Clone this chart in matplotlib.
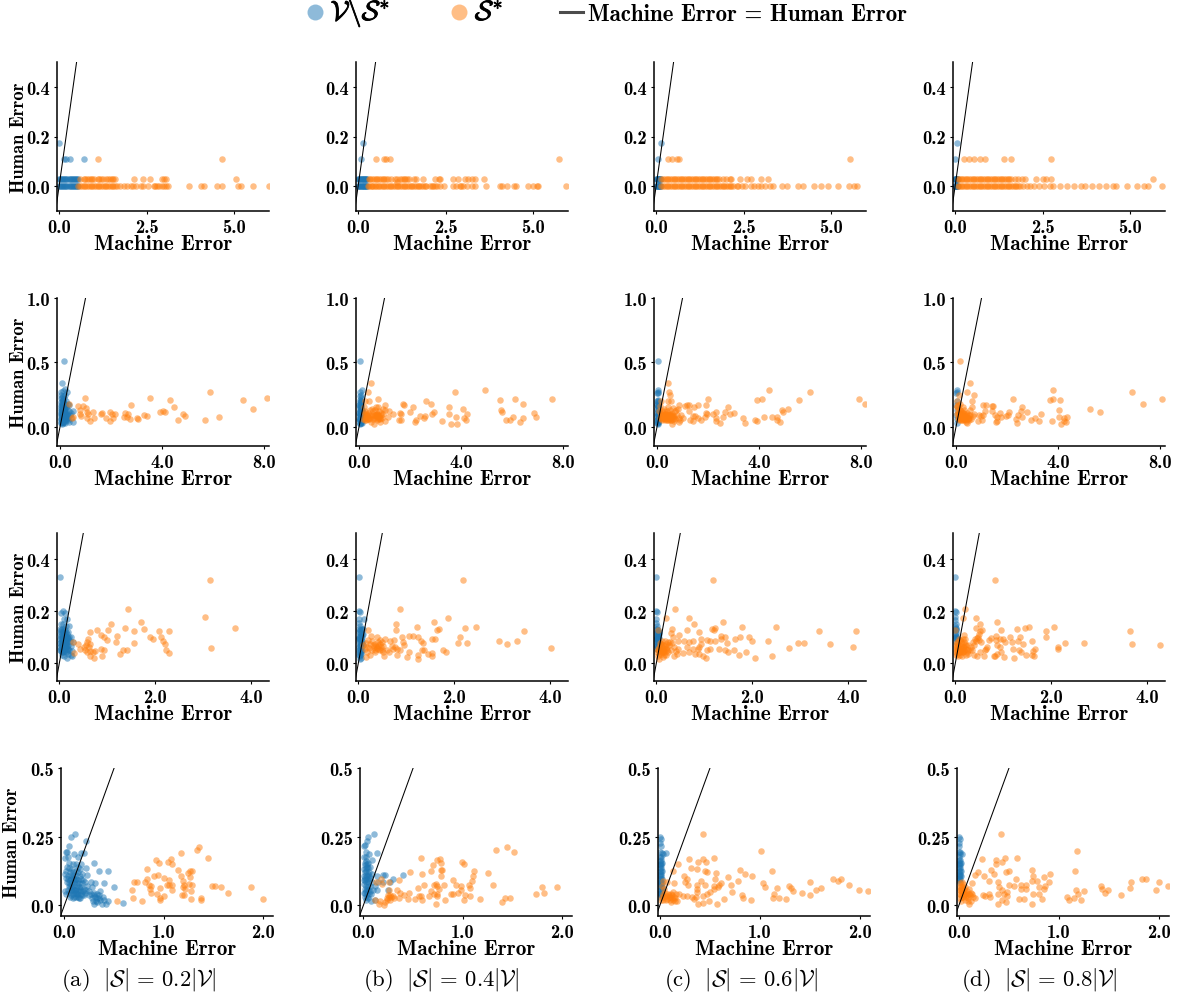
import matplotlib
matplotlib.use("Agg")
import matplotlib.pyplot as plt
from matplotlib.lines import Line2D
import matplotlib.patheffects as pe

plt.rcParams['mathtext.fontset'] = 'cm'
W, H = 1177, 995
BLUE, ORANGE = '#1f77b4', '#ff7f0e'
BOLD = 'cmb10'

# ---- Row 1: human error takes a few discrete levels
LEVEL_A, LEVEL_B, LEVEL_C, LEVEL_D = 0.0, 0.028, 0.11, 0.172

r1c1_blue_strip = [0.0,.03,.06,.09,.12,.15,.18,.21,.24,.27,.30,.33,.36,.39,.42,.45,.48,.51,.54]
r1c1_blue_c = [.15,.2,.3,.7]
r1c1_blue_d = [0.0]
r1c1_or_a = [.55,.6,.65,.7,.75,.8,.85,.9,.95,1.0,1.05,1.1,1.15,1.2,1.25,1.3,1.35,1.4,1.45,1.5,1.55,1.6,1.65,1.75,1.85,1.95,2.05,2.1,2.2,2.35,2.4,2.55,2.7,2.75,2.8,2.85,2.95,3.0,3.05,3.1,3.7,4.05,4.15,4.5,4.65,5.1,5.2,5.55,6.0]
r1c1_or_b = [.6,.7,.75,.8,.85,.9,.95,1.0,1.1,1.15,1.2,1.25,1.35,1.4,1.45,1.5,1.55,1.6,2.15,2.4,2.6,2.95,3.0,3.05,5.05]
r1c1_or_c = [1.1,4.65]

r1c2_blue_strip = [0.0,.02,.04,.06,.08,.10,.12,.14,.16,.18,.20,.22,.24,.26]
r1c2_blue_c = [.07]
r1c2_blue_d = [.15]
r1c2_or_a = [.28,.32,.36,.4,.44,.48,.52,.56,.6,.65,.7,.75,.8,.85,.9,.95,1.0,1.05,1.1,1.15,1.2,1.25,1.3,1.35,1.4,1.45,1.5,1.55,1.6,1.65,1.7,1.75,1.8,1.85,1.9,1.95,2.05,2.1,2.15,2.2,2.25,2.35,2.45,2.7,2.8,2.9,2.95,3.0,3.1,3.25,3.35,3.65,4.05,4.1,4.25,4.45,4.5,4.85,5.0,5.1,5.15,5.95]
r1c2_or_b = [.3,.35,.4,.45,.5,.55,.6,.65,.7,.75,.8,.85,.95,1.05,1.1,1.2,1.25,1.3,1.35,1.4,1.45,1.6,1.65,1.85,2.2,2.3,2.35,2.7,2.85,3.05,3.15,3.25,3.35,3.6]
r1c2_or_c = [.5,.75,.8,.9,5.75]
r1c2_or_x = [1.1]

r1c3_blue_strip = [0.0,.015,.03,.045,.06,.075,.09,.105,.12,.135]
r1c3_blue_c = [.05]
r1c3_blue_d = [.15]
r1c3_or_a = [.15,.2,.25,.3,.35,.4,.45,.5,.55,.6,.65,.7,.75,.8,.85,.9,.95,1.0,1.05,1.1,1.15,1.2,1.25,1.3,1.35,1.4,1.45,1.5,1.55,1.6,1.65,1.7,1.75,1.8,1.85,1.9,1.95,2.0,2.05,2.1,2.15,2.2,2.3,2.35,2.45,2.55,2.7,2.8,2.9,3.0,3.1,3.25,3.35,3.6,3.75,4.05,4.2,4.5,4.7,4.9,5.2,5.5,5.65,5.75]
r1c3_or_b = [.15,.2,.25,.3,.35,.4,.45,.5,.55,.6,.65,.7,.75,.8,.85,.9,.95,1.0,1.05,1.1,1.15,1.2,1.25,1.3,1.35,1.4,1.45,1.5,1.55,1.6,1.65,1.7,1.75,1.8,1.9,2.0,2.1,2.15,2.4,2.6,2.7,3.0,3.2]
r1c3_or_c = [.35,.45,.6,.65,5.55]

r1c4_blue_strip = [0.0,.01,.02,.03,.04,.05,.06,.07]
r1c4_blue_c = [.0]
r1c4_blue_d = [.05]
r1c4_or_a = [.08,.12,.16,.2,.25,.3,.35,.4,.45,.5,.55,.6,.65,.7,.75,.8,.85,.9,.95,1.0,1.05,1.1,1.15,1.2,1.25,1.3,1.35,1.4,1.45,1.5,1.55,1.6,1.65,1.7,1.75,1.8,1.85,1.95,2.05,2.15,2.25,2.4,2.55,2.7,2.8,3.0,3.2,3.4,3.6,3.7,3.9,4.1,4.3,4.5,4.6,4.9,5.2,5.4,5.5,5.9]
r1c4_or_b = [.08,.12,.16,.2,.25,.3,.35,.4,.45,.5,.55,.6,.65,.7,.75,.8,.85,.9,.95,1.0,1.05,1.1,1.15,1.2,1.25,1.3,1.35,1.4,1.45,1.5,1.55,1.6,1.7,1.8,1.9,2.0,2.3,2.5,2.6,2.75,5.65]
r1c4_or_c = [.25,.4,.55,.7,.85,1.4,1.6,2.75]

# ---- Row 2
r2c1_blue = [(.17,.51),(.09,.34),(.02,.27),(.1,.28),(.2,.29),(.28,.27),(.05,.25),(.12,.24),(.2,.25),(.03,.22),(.1,.21),(.16,.22),(.24,.2),(.05,.19),(.12,.19),(.18,.18),(.3,.18),(.36,.17),(.02,.17),(.08,.16),(.14,.16),(.22,.15),(.27,.14),(.03,.14),(.1,.13),(.17,.13),(.35,.12),(.5,.12),(.42,.11),(.05,.12),(.13,.11),(.2,.1),(.26,.1),(.02,.1),(.08,.09),(.15,.09),(.31,.09),(.4,.09),(.04,.08),(.11,.07),(.18,.07),(.25,.07),(.33,.07),(.44,.07),(.02,.06),(.08,.05),(.14,.05),(.22,.05),(.3,.05),(.37,.04),(.5,.04),(.05,.03),(.12,.03),(.2,.03),(.07,.02),(.03,.04),(.16,.12),(.21,.13),(.1,.17),(.07,.11),
 (.06,.2),(.09,.22),(.13,.2),(.07,.18),(.11,.17),(.15,.18),(.04,.15),(.07,.14),(.12,.14),(.19,.15),(.06,.13),(.09,.12),(.14,.13),(.18,.11),(.04,.11),(.09,.1),(.12,.09),(.17,.1),(.22,.09),(.06,.08),(.09,.07),(.14,.08),(.2,.08),(.05,.06),(.1,.05),(.16,.06),(.23,.06),(.07,.04),(.11,.04),(.17,.04),(.13,.16),(.16,.15)]
r2c1_orange = [(.97,.22),(.71,.16),(.91,.16),(1.0,.147),(.78,.13),(1.07,.116),(.78,.10),(1.3,.116),(1.1,.096),(.82,.085),(1.6,.10),(1.65,.11),(1.07,.065),(1.33,.07),(1.17,.045),(1.8,.07),(1.96,.116),(2.03,.10),(2.16,.098),(1.96,.045),(2.07,.07),(2.55,.108),(2.66,.098),(2.49,.078),(2.62,.078),(2.75,.06),(2.78,.168),(3.0,.07),(3.04,.06),(3.28,.09),(3.41,.083),(3.54,.22),(3.93,.116),(4.03,.12),(4.13,.116),(4.3,.21),(4.46,.155),(4.62,.054),(4.82,.095),(4.92,.08),(5.68,.05),(5.87,.27),(6.24,.078),(7.17,.21),(7.59,.14),(8.14,.22),(.51,.078),(.45,.065),(.34,.173)]

r2c2_blue = [(.02,.51),(.04,.27),(.1,.285),(.08,.25),(.02,.21),(.06,.22),(.03,.19),(.08,.18),(.01,.17),(.05,.16),(.09,.15),(.02,.14),(.06,.13),(.1,.12),(.01,.11),(.04,.1),(.08,.09),(.12,.09),(.02,.08),(.06,.07),(.1,.06),(.03,.05),(.07,.04),(.02,.03),(.05,.02),(.1,.03),(.13,.05),(.03,.12),(.07,.11),(.04,.07),(.09,.2),(.12,.13),(.01,.06),(.05,.05),
 (.05,.24),(.07,.2),(.04,.18),(.07,.16),(.03,.15),(.07,.14),(.04,.12),(.08,.12),(.02,.1),(.06,.1),(.1,.1),(.03,.09),(.07,.08),(.1,.08),(.04,.06),(.08,.05),(.02,.05),(.06,.03),(.03,.03)]
r2c2_orange = [(.47,.34),(.37,.266),(.76,.217),(.24,.2),(.39,.2),(1.72,.175),(1.77,.165),(2.11,.15),(2.61,.196),(2.81,.175),(3.53,.15),(3.78,.266),(4.93,.285),(5.55,.206),(6.13,.217),(6.44,.18),(7.59,.217),(5.58,.133),(5.6,.112),(6.85,.107),(6.96,.073),(6.04,.076),(5.76,.052),(5.92,.052),(6.42,.065),(6.31,.037),(4.09,.136),(4.24,.097),(4.12,.068),(4.2,.055),(3.79,.073),(3.84,.024),(3.61,.024),(3.53,.10),(3.27,.044),(2.93,.117),(2.86,.097),(2.6,.086),(2.4,.086),(2.56,.068),(2.24,.05),(2.18,.037),(1.98,.112),(1.61,.104),(1.65,.1),(1.56,.052),(1.65,.052),(1.35,.1),(1.19,.123),(1.15,.073),(1.02,.165),(.93,.138),(1.02,.047),(.59,.018),(.83,.034),
 (.2,.15),(.25,.12),(.3,.09),(.22,.07),(.28,.05),(.35,.11),(.4,.07),(.45,.04),(.42,.13),(.5,.14),(.55,.12),(.6,.09),(.65,.07),(.7,.05),(.48,.09),(.75,.15),(.8,.12),(.85,.09),(.7,.1),(.78,.07),(.9,.07),(.95,.1),(.62,.13),(.72,.08),(.82,.06),(.55,.06),(.35,.06),(.26,.09),(.66,.15),(.88,.11),(1.0,.13),(.18,.1),(.16,.06),
 (.22,.11),(.27,.07),(.33,.08),(.38,.09),(.43,.06),(.52,.08),(.58,.07),(.68,.09),(.74,.06),(.76,.09),(.8,.08),(.72,.1),(.84,.07),(.64,.09),(.3,.06),(.24,.05)]

r2c3_blue = [(.02,.51),(.02,.285),(.03,.27),(.01,.26),(.02,.21),(.03,.19),(.01,.17),(.02,.15),(.03,.13),(.01,.11),(.02,.09),(.03,.07),(.01,.05),(.02,.03),(.03,.02),(.04,.04),(.04,.16),(.05,.11),(.01,.2),(.05,.06),
 (.02,.265),(.04,.2),(.01,.18),(.03,.16),(.01,.14),(.02,.12),(.04,.1),(.01,.08),(.03,.05),(.04,.08),(.02,.06),(.01,.03),(.03,.035)]
r2c3_orange = [(.42,.34),(.46,.266),(.51,.243),(.42,.2),(.55,.196),(2.0,.217),(1.91,.172),(1.6,.165),(1.17,.165),(1.25,.165),(1.08,.16),(1.45,.154),(.88,.172),(2.79,.15),(2.66,.117),(3.91,.206),(4.13,.214),(4.41,.285),(5.59,.209),(6.01,.266),(7.93,.217),(8.16,.18),(5.14,.136),(4.92,.133),(4.93,.112),(4.7,.073),(4.5,.073),(4.2,.073),(4.7,.055),(4.83,.037),(3.84,.055),(3.91,.044),(3.45,.026),(3.36,.065),(3.03,.107),(2.86,.102),(2.57,.073),(2.46,.026),(2.3,.117),(2.2,.1),(2.3,.042),(2.3,.065),(1.91,.104),(1.96,.098),(1.88,.073),(1.71,.055),(1.6,.068),(1.47,.086),(1.41,.086),(1.3,.055),(1.41,.044),(1.25,.123),(1.01,.068),(.95,.091),(.88,.04),(.82,.138),(.64,.143),(.59,.021),(.68,.047),(.55,.086),
 (.1,.16),(.15,.2),(.2,.12),(.25,.09),(.12,.07),(.18,.05),(.3,.1),(.35,.07),(.4,.05),(.28,.14),(.38,.12),(.45,.09),(.5,.07),(.55,.05),(.6,.1),(.65,.08),(.72,.06),(.78,.09),(.85,.07),(.7,.12),(.5,.13),(.42,.15),(.32,.06),(.22,.07),(.15,.1),(.08,.12),(.62,.06),(.75,.13),(.9,.05),(.48,.11),(.36,.09),(.26,.12),
 (.14,.08),(.18,.09),(.24,.07),(.28,.08),(.33,.05),(.37,.1),(.42,.07),(.47,.06),(.52,.09),(.57,.08),(.62,.08),(.68,.07),(.4,.09),(.3,.07),(.2,.06),(.5,.05),(.44,.05),(.55,.1)]

r2c4_blue = [(.02,.285),(.03,.27),(.01,.26),(.02,.2),(.01,.17),(.02,.13),(.01,.09),(.02,.06),(.03,.03)]
r2c4_orange = [(.17,.51),(.53,.34),(.42,.266),(.7,.245),(.63,.2),(.1,.243),(2.22,.214),(3.82,.285),(3.68,.206),(3.82,.214),(4.08,.209),(6.91,.266),(7.34,.18),(8.09,.217),(5.24,.136),(5.63,.112),(4.05,.133),(3.34,.102),(2.8,.112),(2.6,.15),(2.54,.12),(2.43,.091),(2.58,.073),(2.34,.06),(2.41,.026),(2.08,.112),(2.04,.091),(1.95,.086),(1.78,.073),(1.74,.107),(1.62,.073),(1.58,.034),(1.62,.047),(1.51,.091),(1.41,.157),(1.46,.16),(1.42,.123),(1.18,.165),(1.05,.165),(1.12,.123),(1.07,.091),(.96,.086),(.89,.091),(.86,.047),(1.03,.052),(4.03,.073),(4.12,.024),(3.75,.044),(4.25,.068),(4.36,.076),(4.25,.047),(4.32,.034),(3.25,.047),(3.09,.065),(2.93,.055),
 (.05,.2),(.08,.17),(.03,.15),(.06,.12),(.1,.14),(.04,.1),(.08,.07),(.12,.05),(.15,.1),(.18,.08),(.2,.12),(.22,.05),(.25,.09),(.28,.07),(.3,.11),(.33,.13),(.35,.06),(.38,.09),(.4,.04),(.42,.11),(.45,.07),(.5,.09),(.55,.13),(.58,.06),(.62,.15),(.66,.08),(.7,.1),(.26,.15),(.15,.18),(.44,.03),(.12,.07),(.3,.05),(.5,.05),
 (.07,.1),(.11,.09),(.14,.08),(.17,.06),(.2,.09),(.23,.07),(.27,.11),(.32,.08),(.36,.08),(.4,.07),(.43,.09),(.47,.06),(.52,.07),(.33,.06),(.26,.06),(.19,.05),(.1,.11),(.14,.13),(.05,.16),(.38,.05),(.56,.09),(.24,.11)]

# ---- Row 3
r3c1_blue = [(.02,.33),(.08,.2),(.12,.19),(.04,.19),(.1,.17),(.15,.17),(.03,.15),(.08,.15),(.14,.14),(.2,.14),(.01,.13),(.05,.13),(.09,.13),(.13,.12),(.18,.12),(.02,.11),(.06,.11),(.1,.11),(.15,.1),(.2,.1),(.25,.1),(.02,.09),(.06,.09),(.11,.09),(.16,.085),(.22,.085),(.28,.08),(.01,.075),(.05,.075),(.09,.07),(.14,.07),(.19,.07),(.24,.065),(.02,.06),(.06,.06),(.11,.055),(.16,.055),(.21,.05),(.27,.045),(.03,.045),(.08,.04),(.13,.04),(.18,.035),(.24,.03),(.27,.025),(.05,.03),(.1,.025),(.15,.02),(.07,.1),(.12,.08),(.17,.09),(.04,.12),(.07,.065),(.12,.1),
 (.03,.125),(.07,.12),(.11,.125),(.04,.105),(.08,.105),(.12,.105),(.03,.095),(.07,.09),(.09,.095),(.14,.09),(.18,.095),(.04,.08),(.08,.08),(.1,.08),(.15,.08),(.03,.07),(.06,.07),(.11,.07),(.16,.065),(.04,.055),(.08,.055),(.13,.06),(.19,.055),(.02,.05),(.06,.045),(.1,.045),(.15,.045),(.05,.04),(.09,.06),(.13,.075),(.06,.085),(.11,.115),(.16,.11)]
r3c1_orange = [(3.14,.318),(3.04,.175),(3.66,.135),(3.16,.059),(1.44,.207),(1.7,.158),(1.76,.13),(1.07,.149),(1.37,.136),(1.02,.126),(.78,.125),(.63,.118),(.86,.107),(.93,.1),(1.0,.088),(1.21,.103),(1.18,.081),(1.55,.121),(1.55,.075),(1.9,.1),(1.95,.093),(2.09,.121),(2.13,.098),(2.17,.085),(2.21,.073),(2.3,.124),(2.23,.048),(2.28,.037),(1.41,.051),(1.32,.049),(1.27,.035),(.38,.073),(.29,.08),(.43,.054),(.31,.037),(.59,.09),(.56,.067),(.63,.073),(.61,.06),(.54,.048),(.57,.041),(.64,.026),(.72,.019),(.75,.044),(.86,.054),(.93,.049),(.88,.028),(.64,.044),(.71,.042),(.58,.08),(.52,.06)]

r3c2_blue = [(.01,.33),(.01,.2),(.03,.195),(.12,.17),(.01,.17),(.02,.155),(.03,.14),(.01,.13),(.05,.13),(.09,.13),(.02,.12),(.06,.115),(.1,.11),(.03,.105),(.07,.1),(.01,.095),(.04,.09),(.08,.085),(.02,.08),(.05,.075),(.09,.07),(.03,.065),(.06,.06),(.02,.05),(.05,.05),(.03,.04),(.06,.035),(.02,.03),(.04,.025),(.03,.015),
 (.04,.125),(.07,.13),(.03,.115),(.05,.105),(.08,.11),(.02,.1),(.05,.095),(.02,.09),(.06,.085),(.03,.08),(.07,.075),(.03,.07),(.05,.065),(.01,.06),(.04,.055),(.07,.05),(.02,.04),(.05,.04),(.03,.03),(.05,.02)]
r3c2_orange = [(2.19,.319),(.87,.208),(1.87,.174),(1.58,.159),(.79,.15),(1.23,.138),(2.22,.135),(2.46,.137),(1.68,.13),(1.64,.125),(.79,.125),(.2,.126),(3.46,.123),(1.15,.103),(1.06,.102),(1.25,.1),(.92,.1),(2.12,.098),(1.31,.083),(1.34,.076),(.93,.08),(.96,.067),(1.54,.09),(1.6,.09),(2.09,.077),(2.27,.075),(2.94,.085),(3.1,.074),(3.32,.084),(4.03,.059),(1.77,.048),(1.84,.041),(1.54,.037),(1.54,.025),(1.45,.035),(1.33,.05),(1.37,.05),(1.25,.032),(1.25,.015),(1.05,.043),(1.01,.022),(.87,.048),(.77,.06),(.8,.054),(.8,.032),(.65,.043),(.75,.086),(.66,.084),(.56,.09),(.45,.086),(.27,.102),(.38,.1),(.2,.089),(.24,.074),(.35,.074),(.45,.074),(.52,.063),(.38,.058),(.45,.048),(.52,.041),(.54,.025),(.35,.041),(.25,.031),(.15,.022),(.17,.041),(.13,.054),(.1,.067),(.23,.058),(.32,.06),(.41,.063),(.49,.08),
 (.3,.07),(.37,.065),(.42,.055),(.28,.05),(.19,.06),(.34,.05),(.4,.08),(.47,.06),(.5,.05),(.6,.05),(.7,.065),(.72,.055),(.15,.075),(.29,.085)]

r3c3_blue = [(0.0,.33),(0.0,.2),(.01,.195),(0.0,.17),(0.0,.155),(.01,.14),(0.0,.13),(.02,.13),(.04,.125),(0.0,.115),(.02,.115),(.05,.11),(.01,.105),(.03,.1),(.05,.095),(0.0,.09),(.02,.09),(.04,.085),(.01,.08),(.03,.075),(.05,.07),(0.0,.07),(.02,.065),(.04,.06),(.01,.055),
 (.03,.12),(.01,.12),(.05,.12),(.03,.11),(.01,.1),(.04,.1),(.02,.1),(.03,.09),(.01,.09),(.05,.08),(.02,.08),(.03,.065),(.01,.065),(.05,.06),(.02,.055)]
r3c3_orange = [(1.18,.319),(.39,.208),(.2,.172),(.68,.174),(.79,.15),(1.39,.159),(1.78,.139),(2.49,.137),(1.23,.134),(1.17,.13),(1.21,.125),(.65,.126),(.89,.12),(.32,.132),(.31,.115),(3.39,.121),(4.18,.121),(1.36,.103),(1.43,.099),(1.36,.093),(.48,.107),(1.75,.099),(1.65,.092),(1.94,.098),(1.99,.084),(2.34,.084),(1.23,.083),(1.11,.084),(1.06,.086),(.94,.093),(.77,.085),(.58,.083),(.68,.08),(.46,.084),(.35,.099),(1.48,.076),(.94,.074),(2.96,.076),(3.09,.075),(3.63,.074),(4.1,.061),(2.78,.059),(1.31,.053),(1.43,.05),(1.49,.043),(1.63,.05),(1.72,.032),(1.87,.041),(2.07,.017),(2.42,.025),(1.13,.053),(1.06,.05),(1.03,.019),(.97,.025),(.9,.035),(.8,.035),(.9,.06),(.87,.054),(.76,.054),(.69,.041),(.65,.06),(.55,.037),(.46,.054),(.37,.028),(.44,.035),(.3,.048),(.27,.067),(.2,.074),(.16,.054),(.09,.074),(.13,.041),(.06,.015),(.13,.022),(.2,.031),(.23,.05),(.04,.048),(.04,.028),(.09,.035),(.2,.054),(.03,.125),(.12,.06),(.06,.06),(.15,.03),(.1,.05),
 (.08,.05),(.11,.04),(.14,.05),(.17,.065),(.18,.04),(.22,.06),(.25,.04),(.07,.04),(.03,.055),(.05,.035),(.1,.065),(.13,.07),(.16,.045),(.19,.085),(.24,.08),(.12,.085),(.07,.075),(.02,.04),(.28,.08),(.33,.075),(.37,.06),(.42,.045)]

r3c4_blue = [(0.0,.33),(0.0,.2),(.01,.195),(0.0,.175),(0.0,.165),(.01,.15),(0.0,.14),(.01,.125),(.02,.115),(0.0,.11),(.02,.1),(0.0,.095),(.03,.09),(.01,.08),(.01,.135),(.02,.13),(0.0,.125),(.01,.105),(.01,.095)]
r3c4_orange = [(.82,.319),(.2,.208),(.15,.172),(.44,.174),(.87,.159),(.51,.15),(.44,.133),(.52,.121),(.56,.125),(.96,.126),(1.29,.13),(1.45,.135),(1.54,.138),(2.07,.137),(1.89,.121),(1.89,.101),(3.64,.123),(3.7,.074),(4.28,.067),(2.68,.077),(2.28,.075),(2.15,.061),(2.15,.053),(1.61,.084),(1.67,.053),(1.63,.045),(1.61,.032),(1.65,.025),(1.42,.074),(1.34,.098),(1.14,.099),(1.19,.08),(1.31,.083),(1.2,.053),(1.33,.05),(1.38,.043),(1.47,.032),(1.23,.017),(1.04,.079),(.99,.093),(.94,.093),(.85,.102),(.75,.095),(.85,.086),(.87,.067),(.94,.061),(.96,.041),(.87,.035),(.8,.025),(1.01,.021),(.82,.026),(.7,.086),(.66,.06),(.61,.048),(.59,.028),(.49,.086),(.42,.093),(.39,.067),(.45,.028),(.39,.031),(.52,.041),(.63,.054),(.35,.048),(.27,.067),(.25,.041),(.17,.106),(.2,.093),(.13,.074),(.17,.05),(.06,.028),(.1,.041),(.13,.028),(.03,.06),(.01,.041),(.06,.06),(.2,.067),(.3,.048),(.27,.035),(.1,.086),(0.0,.125),(.04,.08),(.08,.05),(.02,.05),(.05,.04),(.15,.06),(.22,.03),(.12,.045),
 (.02,.07),(.05,.07),(.08,.07),(.11,.065),(.14,.055),(.18,.06),(.23,.055),(.03,.05),(.06,.05),(.1,.055),(.13,.04),(.16,.04),(.19,.045),(.04,.035),(.07,.04),(.1,.03),(.01,.06),(.02,.03),(.12,.085),(.07,.09),(.03,.075),(.15,.09),(.18,.08),(.22,.07),(.27,.05),(.32,.06),(.37,.08),(.46,.095),(.48,.1),(.5,.11),(.53,.08),(.44,.085)]

# ---- Row 4
r4c1_blue = [(.07,.25),(.11,.26),(.22,.235),(.05,.215),(.02,.195),(.03,.195),(.17,.19),(.2,.19),(.1,.185),(.14,.175),(.04,.175),(.01,.17),(.3,.155),(.05,.155),(.09,.15),(.03,.14),(.12,.15),(.17,.15),(.22,.135),(.35,.125),(.44,.125),(.01,.115),(.06,.12),(.1,.11),(.14,.12),(.18,.115),(.23,.11),(.02,.1),(.07,.1),(.12,.095),(.17,.095),(.21,.085),(.27,.085),(.31,.08),(.4,.08),(.5,.065),(.03,.085),(.08,.085),(.13,.08),(.18,.08),(.23,.07),(.28,.065),(.36,.05),(.01,.05),(.05,.07),(.1,.07),(.15,.065),(.2,.06),(.25,.05),(.3,.045),(.33,.04),(.39,.03),(.02,.04),(.07,.055),(.11,.055),(.16,.05),(.21,.045),(.31,.03),(.35,.025),(.4,.02),(.05,.045),(.09,.04),(.13,.04),(.18,.035),(.25,.035),(.28,.025),(.32,.015),(.44,.015),(.1,.03),(.15,.025),(.07,.035),(.12,.06),(.08,.065),(.14,.05),(.17,.065),(.06,.09),(.11,.09),(.38,.005),(.3,.005),(.33,.01),(.42,.005),(.59,.007),(.02,.125),(.12,.125),(.04,.105),
 (.05,.135),(.08,.13),(.14,.14),(.16,.13),(.09,.12),(.07,.11),(.12,.11),(.16,.105),(.04,.095),(.09,.1),(.14,.09),(.19,.09),(.05,.08),(.1,.08),(.15,.08),(.06,.065),(.09,.06),(.13,.07),(.16,.06),(.19,.05),(.22,.055),(.04,.055),(.08,.05),(.11,.045),(.14,.04),(.17,.04),(.2,.035),(.06,.03),(.09,.025),(.12,.03),(.14,.03),(.16,.025),(.27,.04),(.3,.035),(.33,.025),(.36,.02),(.29,.015),(.35,.035),(.12,.045),(.1,.055),(.07,.075),(.1,.095)]
r4c1_orange = [(1.35,.21),(1.33,.2),(1.17,.19),(1.45,.172),(.92,.165),(.95,.154),(1.07,.168),(1.04,.157),(1.08,.148),(.83,.13),(1.14,.128),(1.26,.125),(1.28,.123),(1.24,.118),(1.17,.107),(.94,.11),(.9,.105),(1.26,.104),(1.0,.1),(1.05,.09),(1.19,.089),(.83,.094),(.7,.083),(.735,.083),(.68,.056),(.81,.083),(.85,.074),(.87,.07),(.96,.062),(1.03,.073),(1.08,.074),(1.08,.056),(1.2,.074),(1.19,.067),(1.21,.058),(1.25,.077),(1.285,.073),(1.27,.05),(1.18,.037),(1.2,.037),(1.27,.022),(1.37,.024),(1.37,.02),(1.49,.07),(1.52,.07),(1.58,.067),(1.65,.044),(1.88,.065),(2.0,.022),(.69,.026),(.78,.015),(.53,.016),(.86,.059),(.87,.043),(.93,.04),(.96,.026),(1.0,.034),(.96,.018),(1.05,.074)]

r4c2_blue = [(.11,.26),(.05,.25),(.04,.235),(.01,.215),(.02,.22),(.03,.195),(.14,.19),(.06,.185),(.01,.175),(.03,.175),(.09,.165),(.05,.155),(.02,.155),(.04,.14),(.07,.14),(.01,.13),(.03,.125),(.06,.12),(.09,.115),(.01,.105),(.04,.105),(.07,.1),(.14,.105),(.22,.11),(.2,.11),(.4,.11),(.3,.095),(.02,.09),(.05,.085),(.09,.085),(.15,.085),(.2,.085),(.27,.085),(.01,.075),(.03,.07),(.07,.07),(.12,.07),(.02,.06),(.05,.055),(.1,.055),(.14,.055),(.01,.045),(.04,.04),(.08,.04),(.02,.03),(.05,.025),(.25,.055),(.12,.02),(.08,.015),
 (.03,.16),(.04,.15),(.02,.145),(.05,.135),(.03,.135),(.02,.12),(.05,.115),(.03,.11),(.06,.105),(.02,.1),(.04,.095),(.06,.09),(.03,.085),(.01,.09),(.05,.07),(.04,.06),(.07,.05),(.03,.05),(.06,.04),(.02,.045),(.04,.03),(.03,.02)]
r4c2_orange = [(1.45,.21),(1.33,.2),(1.52,.195),(.58,.172),(.77,.167),(.74,.165),(.7,.146),(.78,.154),(.99,.157),(1.01,.148),(.47,.122),(1.11,.123),(1.25,.118),(1.1,.106),(.59,.113),(.68,.123),(.78,.129),(.79,.129),(.78,.107),(.9,.093),(1.09,.087),(1.3,.073),(1.8,.065),(1.95,.067),(1.82,.044),(1.74,.04),(1.4,.01),(1.43,.027),(1.48,.024),(1.17,.022),(.82,.02),(.73,.005),(1.01,.02),(1.07,.034),(1.02,.037),(.98,.068),(.98,.056),(.93,.074),(1.06,.073),(1.07,.061),(.95,.044),(.9,.04),(.88,.04),(.81,.073),(.73,.077),(.71,.073),(.74,.071),(.61,.073),(.55,.062),(.76,.059),(.68,.05),(.74,.04),(.71,.04),(.74,.034),(.66,.034),(.58,.034),(.52,.022),(.56,.034),(.59,.02),(.45,.022),(.41,.037),(.46,.043),(.37,.043),(.34,.055),(.36,.026),(.31,.026),(.26,.028),(.27,.038),(.24,.018),(.16,.004),(.21,.001),(.17,.016),(.12,.02),(.26,.055),(.26,.083),(.18,.095),(.13,.083),(.19,.077),(.36,.093),
 (.24,.025),(.27,.02),(.28,.03),(.25,.035),(.3,.032),(.22,.012)]

r4c3_blue = [(.0,.25),(.01,.24),(.0,.225),(.01,.215),(.0,.195),(.02,.19),(.06,.19),(.03,.185),(.0,.175),(.01,.165),(.02,.155),(.0,.145),(.01,.135),(.02,.125),(.0,.115),(.01,.105),(.02,.095),(.0,.085),(.01,.075),(.02,.065),(.0,.055),(.01,.045),(.02,.035),(.0,.03),
 (.01,.155),(.0,.16),(.0,.15),(.01,.145),(.0,.135),(.01,.125),(.0,.125),(.01,.115),(.0,.105),(.01,.095),(.0,.095),(.01,.085),(.0,.075),(.0,.065),(.01,.065),(.01,.055),(.0,.045),(.01,.035),(.02,.05),(.02,.08),(.0,.04),(.01,.175)]
r4c3_orange = [(.43,.26),(1.01,.197),(1.12,.123),(.54,.172),(.29,.168),(.43,.168),(.38,.158),(.46,.156),(.18,.15),(.13,.123),(.31,.135),(.37,.132),(.45,.126),(.47,.12),(.56,.116),(.8,.129),(.85,.113),(.68,.104),(.92,.105),(.24,.105),(.27,.095),(.41,.089),(.55,.094),(.78,.087),(.71,.073),(.61,.079),(.25,.083),(.07,.083),(.14,.079),(.28,.073),(.37,.074),(.45,.074),(.54,.071),(.59,.073),(1.03,.082),(1.05,.065),(1.17,.062),(1.29,.07),(1.31,.061),(1.33,.05),(1.42,.043),(1.5,.083),(1.5,.037),(1.56,.056),(1.61,.061),(1.73,.094),(1.78,.087),(1.81,.094),(1.89,.072),(1.99,.054),(2.08,.052),(1.14,.04),(1.13,.026),(1.19,.024),(1.26,.021),(.91,.02),(.83,.026),(.82,.038),(.72,.046),(.64,.023),(.57,.004),(.49,.016),(.38,.004),(.43,.007),(.58,.065),(.54,.059),(.5,.046),(.47,.04),(.43,.034),(.37,.059),(.37,.046),(.36,.028),(.32,.028),(.34,.022),(.27,.032),(.23,.034),(.19,.04),(.13,.046),(.11,.04),(.09,.028),(.07,.022),(.11,.01),(.17,.016),(.13,.02),(.04,.028),(.03,.04),(.04,.059),(.02,.071),(.03,.089),(.06,.034),(.1,.03),(.12,.035),(.15,.025),
 (.08,.04),(.1,.02),(.14,.03),(.12,.025),(.09,.035),(.16,.04),(.06,.02),(.15,.015),(.02,.03),(.03,.02),(.01,.02),(.05,.045)]

r4c4_blue = [(.0,.25),(.01,.24),(.0,.225),(.0,.215),(.01,.195),(.03,.185),(.0,.175),(.01,.165),(.02,.155),(.0,.145),(.01,.135),(.02,.125),(.0,.115),(.01,.105),(.0,.09),
 (.0,.195),(.01,.185),(.0,.165),(.01,.155),(.0,.155),(.01,.145),(.0,.135),(.01,.125),(.0,.125),(.01,.115),(.0,.105),(.01,.095),(.02,.105),(.0,.1),(.01,.085)]
r4c4_orange = [(.42,.26),(1.18,.197),(1.16,.123),(.58,.172),(.23,.168),(.37,.165),(.46,.17),(.37,.15),(.43,.156),(.19,.12),(.16,.11),(.32,.129),(.35,.113),(.47,.12),(.5,.123),(.73,.129),(.91,.113),(.85,.104),(.74,.105),(.25,.105),(.3,.089),(.57,.094),(.78,.089),(.73,.087),(.9,.083),(.13,.079),(.39,.083),(.5,.074),(.55,.068),(.62,.073),(.67,.073),(.86,.071),(.8,.065),(.85,.059),(.67,.059),(.62,.059),(.4,.065),(.43,.055),(.48,.046),(.45,.04),(.39,.04),(.3,.04),(.26,.034),(.24,.038),(.31,.028),(.8,.04),(.74,.04),(.83,.022),(.6,.023),(.65,.023),(.73,.004),(.47,.01),(.43,.02),(.39,.004),(.48,.034),(1.08,.028),(1.1,.02),(1.15,.026),(1.17,.055),(1.19,.04),(1.25,.051),(1.22,.02),(1.42,.07),(1.43,.059),(1.46,.043),(1.49,.056),(1.62,.037),(1.72,.083),(1.71,.061),(1.83,.094),(1.87,.094),(2.0,.083),(1.97,.054),(2.09,.071),
 (.01,.08),(.02,.07),(.04,.075),(.06,.065),(.01,.055),(.03,.05),(.05,.045),(.08,.05),(.1,.06),(.12,.045),(.02,.035),(.04,.03),(.07,.03),(.09,.025),(.11,.035),(.14,.03),(.01,.025),(.06,.02),(.1,.005),(.12,.015),(.16,.025),(.03,.085),(.02,.015),
 (.02,.06),(.03,.065),(.01,.065),(.04,.06),(.02,.05),(.04,.045),(.01,.04),(.03,.04),(.05,.035),(.07,.045),(.08,.035),(.06,.04),(.1,.04),(.03,.03),(.13,.04),(.09,.015),(.05,.06)]

# ---- Axes settings
row_ylims = [(-0.1, 0.5), (-0.15, 1.0), (-0.07, 0.5), (-0.04, 0.5)]
row_xlims = [(-0.06, 6.0), (-0.12, 8.2), (-0.05, 4.38), (-0.035, 2.1)]
row_xticks = [[0.0, 2.5, 5.0], [0.0, 4.0, 8.0], [0.0, 2.0, 4.0], [0.0, 1.0, 2.0]]
row_yticks = [[0.0, 0.2, 0.4], [0.0, 0.5, 1.0], [0.0, 0.2, 0.4], [0.0, 0.25, 0.5]]
row_yticklabels = [['0.0', '0.2', '0.4'], ['0.0', '0.5', '1.0'], ['0.0', '0.2', '0.4'], ['0.0', '0.25', '0.5']]
row_tops = [63, 299, 534, 769]
row_bottoms = [212, 447, 682, 917]
col_lefts = [[57, 356, 654, 953]] * 3 + [[61, 360, 658, 957]]
AX_W = 212
captions = [r'$\mathrm{(a)}\ \ |\mathcal{S}|\,=\,0.2|\mathcal{V}|$', r'$\mathrm{(b)}\ \ |\mathcal{S}|\,=\,0.4|\mathcal{V}|$',
            r'$\mathrm{(c)}\ \ |\mathcal{S}|\,=\,0.6|\mathcal{V}|$', r'$\mathrm{(d)}\ \ |\mathcal{S}|\,=\,0.8|\mathcal{V}|$']
caption_x = [139, 441, 741, 1039]

def strip(xs, level):
    return [(x, level) for x in xs]

blue_sets = [
    [strip(r1c1_blue_strip, LEVEL_A) + strip(r1c1_blue_strip, LEVEL_B) + strip(r1c1_blue_c, LEVEL_C) + strip(r1c1_blue_d, LEVEL_D),
     strip(r1c2_blue_strip, LEVEL_A) + strip(r1c2_blue_strip, LEVEL_B) + strip(r1c2_blue_c, LEVEL_C) + strip(r1c2_blue_d, LEVEL_D),
     strip(r1c3_blue_strip, LEVEL_A) + strip(r1c3_blue_strip, LEVEL_B) + strip(r1c3_blue_c, LEVEL_C) + strip(r1c3_blue_d, LEVEL_D),
     strip(r1c4_blue_strip, LEVEL_A) + strip(r1c4_blue_strip, LEVEL_B) + strip(r1c4_blue_c, LEVEL_C) + strip(r1c4_blue_d, LEVEL_D)],
    [r2c1_blue, r2c2_blue, r2c3_blue, r2c4_blue],
    [r3c1_blue, r3c2_blue, r3c3_blue, r3c4_blue],
    [r4c1_blue, r4c2_blue, r4c3_blue, r4c4_blue],
]
orange_sets = [
    [strip(r1c1_or_a, LEVEL_A) + strip(r1c1_or_b, LEVEL_B) + strip(r1c1_or_c, LEVEL_C),
     strip(r1c2_or_a, LEVEL_A) + strip(r1c2_or_b, LEVEL_B) + strip(r1c2_or_c, LEVEL_C) + strip(r1c2_or_x, 0.018),
     strip(r1c3_or_a, LEVEL_A) + strip(r1c3_or_b, LEVEL_B) + strip(r1c3_or_c, LEVEL_C),
     strip(r1c4_or_a, LEVEL_A) + strip(r1c4_or_b, LEVEL_B) + strip(r1c4_or_c, LEVEL_C)],
    [r2c1_orange, r2c2_orange, r2c3_orange, r2c4_orange],
    [r3c1_orange, r3c2_orange, r3c3_orange, r3c4_orange],
    [r4c1_orange, r4c2_orange, r4c3_orange, r4c4_orange],
]

fig = plt.figure(figsize=(W / 100, H / 100), dpi=100)
TICK_FS, LABEL_FS, YLABEL_FS = 13.3, 15.3, 13.3

for r in range(4):
    for c in range(4):
        left, top, bottom = col_lefts[r][c], row_tops[r], row_bottoms[r]
        ax = fig.add_axes([left / W, 1 - bottom / H, AX_W / W, (bottom - top) / H])
        xlim = row_xlims[r]
        if r == 3 and c >= 2:
            xlim = (-0.02, 2.1)
        bx, by = zip(*blue_sets[r][c])
        ox, oy = zip(*orange_sets[r][c])
        ax.scatter(bx, by, s=22, color=BLUE, alpha=0.5, linewidths=0)
        ax.scatter(ox, oy, s=22, color=ORANGE, alpha=0.5, linewidths=0)
        ax.plot([-1, 1], [-1, 1], color='black', lw=0.75)
        ax.set_xlim(*xlim)
        ax.set_ylim(*row_ylims[r])
        ax.spines['top'].set_visible(False)
        ax.spines['right'].set_visible(False)
        for s in ('left', 'bottom'):
            ax.spines[s].set_linewidth(1.1)
        ax.set_xticks(row_xticks[r])
        ax.set_xticklabels(['%.1f' % v for v in row_xticks[r]], fontfamily=BOLD, fontsize=TICK_FS)
        ax.set_yticks(row_yticks[r])
        ax.set_yticklabels(row_yticklabels[r], fontfamily=BOLD, fontsize=TICK_FS)
        ax.tick_params(length=2.5, width=0.8, pad=2.5)
        ax.set_xlabel('Machine Error', fontfamily=BOLD, fontsize=LABEL_FS, labelpad=-1.5)
        if c == 0:
            ax.set_ylabel('Human Error', fontfamily=BOLD, fontsize=YLABEL_FS)
            ax.yaxis.set_label_coords(-0.19 if r == 3 else -0.137, 0.5)
        if r == 3:
            fig.text(caption_x[c] / W, 1 - 980 / H, captions[c], ha='center', va='center', fontsize=16.3)

handles = [
    Line2D([], [], marker='o', ls='', color=BLUE, alpha=0.5, ms=11.5, mew=0),
    Line2D([], [], marker='o', ls='', color=ORANGE, alpha=0.5, ms=11.5, mew=0),
    Line2D([], [], color='black', alpha=0.7, lw=2.2),
]
labels = [r'$\mathcal{V}\backslash\mathcal{S}^{*}$', r'$\mathcal{S}^{*}$', 'Machine Error = Human Error']
leg = fig.legend(handles, labels, loc='center', bbox_to_anchor=(605 / W, 1 - 14 / H), ncol=3, frameon=False,
                 fontsize=16.5, handlelength=1.0, handletextpad=0.2, columnspacing=2.5, borderpad=0)
leg.get_texts()[2].set_fontfamily(BOLD)
for t in leg.get_texts()[:2]:
    t.set_fontsize(20)
    t.set_path_effects([pe.withStroke(linewidth=0.6, foreground='black')])

fig.savefig('out.png', dpi=100)
